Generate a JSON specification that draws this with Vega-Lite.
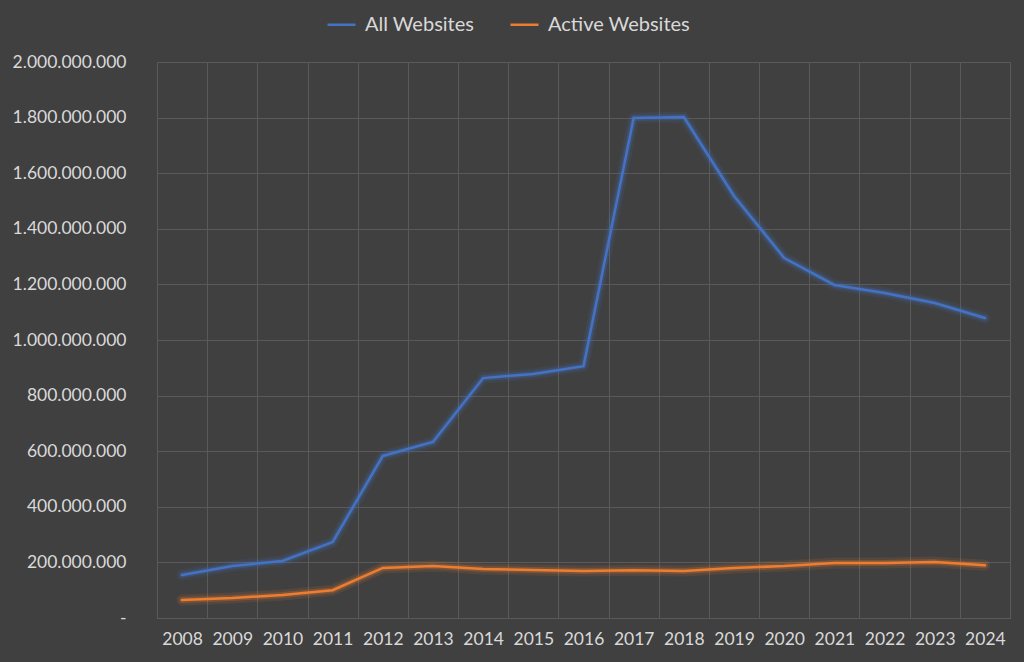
{
  "$schema": "https://vega.github.io/schema/vega-lite/v6.json",
  "width": 1024,
  "height": 662,
  "autosize": {"type": "fit", "contains": "padding"},
  "padding": {"left": 12, "top": 53, "right": 14, "bottom": 14},
  "background": "#404040",
  "config": {
    "font": "Lato",
    "view": {"stroke": "#5a5a5a", "strokeWidth": 1},
    "axis": {"labelFont": "Lato", "labelColor": "#d9d9d9", "labelFontSize": 17.5, "gridColor": "#5a5a5a", "gridWidth": 1, "domain": false, "ticks": false, "title": null}
  },
  "data": {
    "values": [
      {"year": "2008", "series": "All Websites", "value": 155000000},
      {"year": "2009", "series": "All Websites", "value": 187000000},
      {"year": "2010", "series": "All Websites", "value": 205000000},
      {"year": "2011", "series": "All Websites", "value": 273000000},
      {"year": "2012", "series": "All Websites", "value": 583000000},
      {"year": "2013", "series": "All Websites", "value": 633000000},
      {"year": "2014", "series": "All Websites", "value": 863000000},
      {"year": "2015", "series": "All Websites", "value": 878000000},
      {"year": "2016", "series": "All Websites", "value": 906000000},
      {"year": "2017", "series": "All Websites", "value": 1799000000},
      {"year": "2018", "series": "All Websites", "value": 1802000000},
      {"year": "2019", "series": "All Websites", "value": 1518000000},
      {"year": "2020", "series": "All Websites", "value": 1295000000},
      {"year": "2021", "series": "All Websites", "value": 1198000000},
      {"year": "2022", "series": "All Websites", "value": 1169000000},
      {"year": "2023", "series": "All Websites", "value": 1133000000},
      {"year": "2024", "series": "All Websites", "value": 1079000000},
      {"year": "2008", "series": "Active Websites", "value": 65000000},
      {"year": "2009", "series": "Active Websites", "value": 72000000},
      {"year": "2010", "series": "Active Websites", "value": 83000000},
      {"year": "2011", "series": "Active Websites", "value": 100000000},
      {"year": "2012", "series": "Active Websites", "value": 180000000},
      {"year": "2013", "series": "Active Websites", "value": 187000000},
      {"year": "2014", "series": "Active Websites", "value": 176000000},
      {"year": "2015", "series": "Active Websites", "value": 173000000},
      {"year": "2016", "series": "Active Websites", "value": 169000000},
      {"year": "2017", "series": "Active Websites", "value": 172000000},
      {"year": "2018", "series": "Active Websites", "value": 169000000},
      {"year": "2019", "series": "Active Websites", "value": 180000000},
      {"year": "2020", "series": "Active Websites", "value": 187000000},
      {"year": "2021", "series": "Active Websites", "value": 198000000},
      {"year": "2022", "series": "Active Websites", "value": 198000000},
      {"year": "2023", "series": "Active Websites", "value": 201000000},
      {"year": "2024", "series": "Active Websites", "value": 190000000}
    ]
  },
  "encoding": {
    "x": {
      "field": "year", "type": "ordinal", "sort": "ascending",
      "scale": {"paddingInner": 0, "paddingOuter": 0},
      "axis": {"labelAngle": 0, "labelPadding": 12, "grid": true, "tickBand": "extent"}
    },
    "y": {
      "field": "value", "type": "quantitative",
      "scale": {"domain": [0, 2000000000], "nice": false},
      "axis": {"values": [0, 200000000, 400000000, 600000000, 800000000, 1000000000, 1200000000, 1400000000, 1600000000, 1800000000, 2000000000], "labelPadding": 31, "grid": true, "labelExpr": "datum.value == 0 ? '-' : replace(format(datum.value, ',d'), /,/g, '.')"}
    },
    "color": {
      "field": "series", "type": "nominal",
      "scale": {"domain": ["All Websites", "Active Websites"], "range": ["#4472c4", "#ed7d31"]},
      "legend": {"orient": "none", "legendX": 169, "legendY": -53, "direction": "horizontal", "title": null, "symbolType": "stroke", "symbolSize": 784, "symbolStrokeWidth": 2.5, "symbolOpacity": 1, "labelFont": "Lato", "labelFontSize": 20, "labelColor": "#d9d9d9", "labelOffset": 8, "columnPadding": 30}
    }
  },
  "layer": [
    {"mark": {"type": "line", "strokeWidth": 11, "opacity": 0.12, "strokeJoin": "round", "strokeCap": "round"}},
    {"mark": {"type": "line", "strokeWidth": 6, "opacity": 0.25, "strokeJoin": "round", "strokeCap": "round"}},
    {"mark": {"type": "line", "strokeWidth": 2.5, "strokeJoin": "miter", "strokeCap": "round"}}
  ]
}
